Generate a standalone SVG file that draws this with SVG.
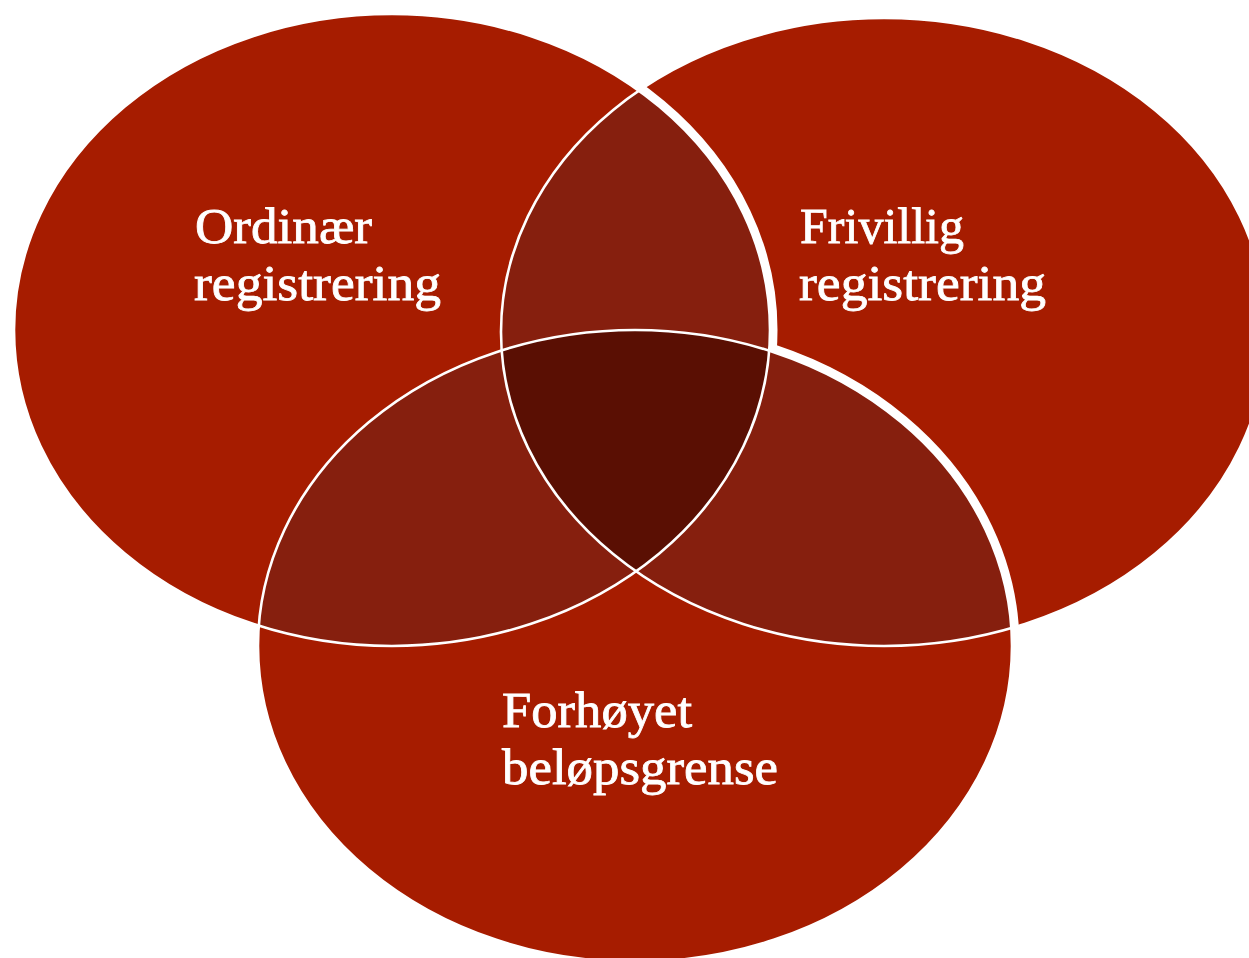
<svg xmlns="http://www.w3.org/2000/svg" width="1249" height="958" viewBox="0 0 1249 958">
  <style>
    .base { fill: #a61c00; }
    .pair { fill: #861f0e; }
    .triple { fill: #5a0f03; }
    .edge { fill: none; stroke: #ffffff; stroke-width: 2.6; }
    .band { fill: none; stroke: #ffffff; stroke-width: 15; }
    .label { font-family: "Liberation Serif", "Times New Roman", serif; font-size: 50px; fill: #ffffff; stroke: #ffffff; stroke-width: 0.8; }
  </style>
  <defs>
    <clipPath id="c1"><ellipse cx="392" cy="330" rx="378" ry="316"/></clipPath>
    <clipPath id="c2"><ellipse cx="884" cy="332" rx="383" ry="314"/></clipPath>
    <clipPath id="c3"><ellipse cx="635" cy="646" rx="377" ry="316"/></clipPath>
    <mask id="m2only" maskUnits="userSpaceOnUse" x="0" y="0" width="1249" height="958">
      <rect x="0" y="0" width="1249" height="958" fill="#000000"/>
      <ellipse cx="884" cy="332" rx="383" ry="314" fill="#ffffff"/>
      <ellipse cx="392" cy="330" rx="378" ry="316" fill="#000000"/>
      <ellipse cx="635" cy="646" rx="377" ry="316" fill="#000000"/>
    </mask>
  </defs>
  <rect x="0" y="0" width="1249" height="958" fill="#ffffff"/>

  <g id="node-ordinaer">
    <ellipse class="base" cx="392" cy="330" rx="378" ry="316"/>
    <text class="label" x="195" y="243" textLength="177" lengthAdjust="spacingAndGlyphs">Ordinær</text>
    <text class="label" x="194" y="300" textLength="247" lengthAdjust="spacingAndGlyphs">registrering</text>
  </g>
  <g id="node-frivillig">
    <ellipse class="base" cx="884" cy="332" rx="383" ry="314"/>
    <text class="label" x="800" y="243" textLength="164" lengthAdjust="spacingAndGlyphs">Frivillig</text>
    <text class="label" x="799" y="300" textLength="247" lengthAdjust="spacingAndGlyphs">registrering</text>
  </g>
  <g id="node-forhoyet">
    <ellipse class="base" cx="635" cy="646" rx="377" ry="316"/>
    <text class="label" x="502" y="727" textLength="190" lengthAdjust="spacingAndGlyphs">Forhøyet</text>
    <text class="label" x="502" y="784" textLength="276" lengthAdjust="spacingAndGlyphs">beløpsgrense</text>
  </g>

  <g id="overlaps">
    <g clip-path="url(#c2)"><ellipse class="pair" cx="392" cy="330" rx="378" ry="316"/></g>
    <g clip-path="url(#c3)"><ellipse class="pair" cx="392" cy="330" rx="378" ry="316"/></g>
    <g clip-path="url(#c3)"><ellipse class="pair" cx="884" cy="332" rx="383" ry="314"/></g>
    <g clip-path="url(#c3)"><g clip-path="url(#c2)"><ellipse class="triple" cx="392" cy="330" rx="378" ry="316"/></g></g>
  </g>

  <g id="connectors">
    <ellipse class="edge" cx="392" cy="330" rx="378" ry="316"/>
    <ellipse class="edge" cx="884" cy="332" rx="383" ry="314"/>
    <ellipse class="edge" cx="635" cy="646" rx="377" ry="316"/>
    <g mask="url(#m2only)">
      <ellipse class="band" cx="392" cy="330" rx="378" ry="316"/>
      <ellipse class="band" cx="635" cy="646" rx="377" ry="316"/>
    </g>
  </g>
</svg>
